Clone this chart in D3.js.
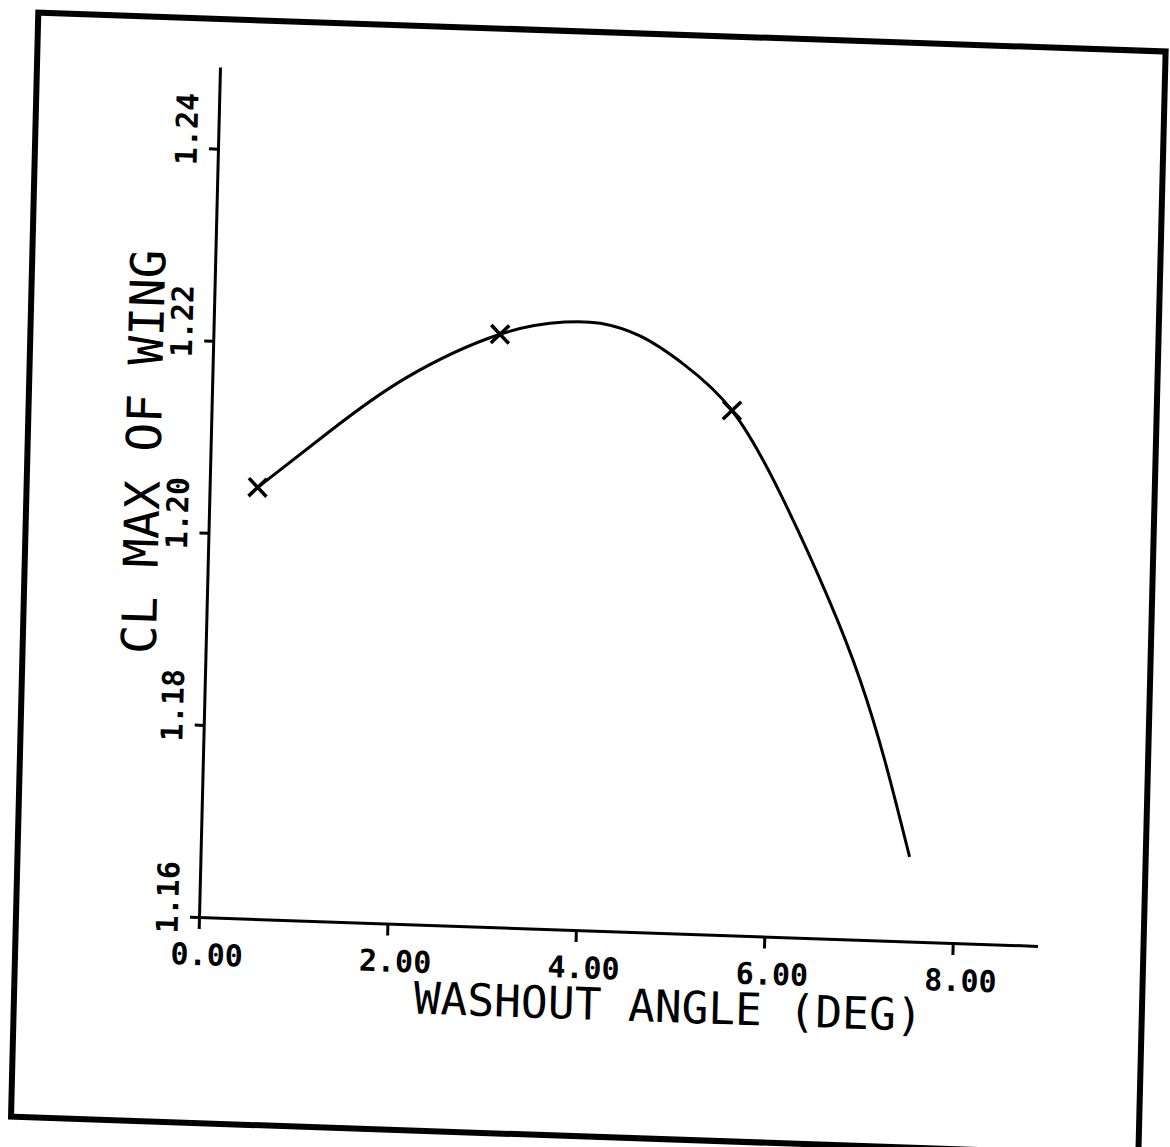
<!DOCTYPE html>
<html>
<head>
<meta charset="utf-8">
<script src="https://cdn.jsdelivr.net/npm/d3@7"></script>
<style>
  body { margin: 0; background: #fff; }
  svg { display: block; }
  .axis path, .axis line { stroke: #000; stroke-width: 3; }
  text { font-family: "DejaVu Sans Mono", monospace; fill: #000; }
</style>
</head>
<body>
<svg id="chart"></svg>
<script>
// tick values
const xTicks = [0, 2, 4, 6, 8];
const yTicks = [1.16, 1.18, 1.20, 1.22, 1.24];

// points marked with an X
const markerX = [0.51, 3.04, 5.52];
const markerY = [1.2049, 1.2217, 1.2146];

// the faired curve, read along its length
const curveX = [0.51, 1.26, 2.05, 3.04, 3.72, 4.10, 4.53, 5.00, 5.52, 6.05, 6.60, 6.95, 7.23, 7.52];
const curveY = [1.2049, 1.2110, 1.2168, 1.2217, 1.2232, 1.2232, 1.2220, 1.2192, 1.2146, 1.2062, 1.1952, 1.1870, 1.1788, 1.1688];

const svgWidth = 1170;
const svgHeight = 1147;

const svg = d3.select("#chart")
    .attr("width", svgWidth)
    .attr("height", svgHeight);

// the scanned page sits a little crooked, so the whole drawing is skewed
// the origin of the axes is the translate part
const page = svg.append("g")
    .attr("transform", "matrix(0.9994,0.0344,-0.0247,1,199,917)");

const xScale = d3.scaleLinear().domain([0, 8.9]).range([0, 839]);
const yScale = d3.scaleLinear().domain([1.16, 1.2485]).range([0, -850]);

// frame round the figure
page.append("rect")
    .attr("x", -183).attr("y", -898)
    .attr("width", 1128).attr("height", 1104)
    .attr("fill", "none")
    .attr("stroke", "#000")
    .attr("stroke-width", 6);

// x axis
const xAxis = page.append("g")
    .attr("class", "axis")
    .call(d3.axisBottom(xScale).tickValues(xTicks).tickSize(12).tickSizeOuter(0).tickFormat(d3.format(".2f")));

xAxis.selectAll("text")
    .attr("text-anchor", "start")
    .attr("x", -28)
    .attr("y", 48)
    .attr("dy", 0)
    .attr("font-size", 30)
    .attr("font-weight", "bold")
    .attr("font-family", null);

// y axis, labels turned to read upward
const yAxis = page.append("g")
    .attr("class", "axis")
    .call(d3.axisLeft(yScale).tickValues(yTicks).tickSize(9).tickSizeOuter(0).tickFormat(d3.format(".2f")));

yAxis.selectAll("text")
    .attr("transform", "rotate(-90)")
    .attr("text-anchor", "start")
    .attr("x", -17)
    .attr("y", -21)
    .attr("dy", 0)
    .attr("font-size", 30)
    .attr("font-weight", "bold")
    .attr("font-family", null);

// axis titles
page.append("text")
    .attr("x", xScale(5.0))
    .attr("y", 89)
    .attr("text-anchor", "middle")
    .attr("font-size", 44.5)
    .text("WASHOUT ANGLE (DEG)");

page.append("text")
    .attr("transform", `translate(-50, ${yScale(1.2082)}) rotate(-90)`)
    .attr("text-anchor", "middle")
    .attr("font-size", 48)
    .text("CL MAX OF WING");

// the curve
const line = d3.line()
    .x((d, i) => xScale(curveX[i]))
    .y((d, i) => yScale(curveY[i]))
    .curve(d3.curveNatural);

page.append("path")
    .attr("d", line(curveX))
    .attr("fill", "none")
    .attr("stroke", "#000")
    .attr("stroke-width", 3);

// X markers
page.selectAll(".mark")
    .data(markerX)
    .join("path")
    .attr("class", "mark")
    .attr("transform", (d, i) => `translate(${xScale(d)}, ${yScale(markerY[i])})`)
    .attr("d", "M-9,-9L9,9M-9,9L9,-9")
    .attr("stroke", "#000")
    .attr("stroke-width", 3.5)
    .attr("fill", "none");

// caption cut off at the bottom of the scan
page.append("text")
    .attr("x", -72)
    .attr("y", 258)
    .attr("font-size", 34)
    .text("Fi");
</script>
</body>
</html>
